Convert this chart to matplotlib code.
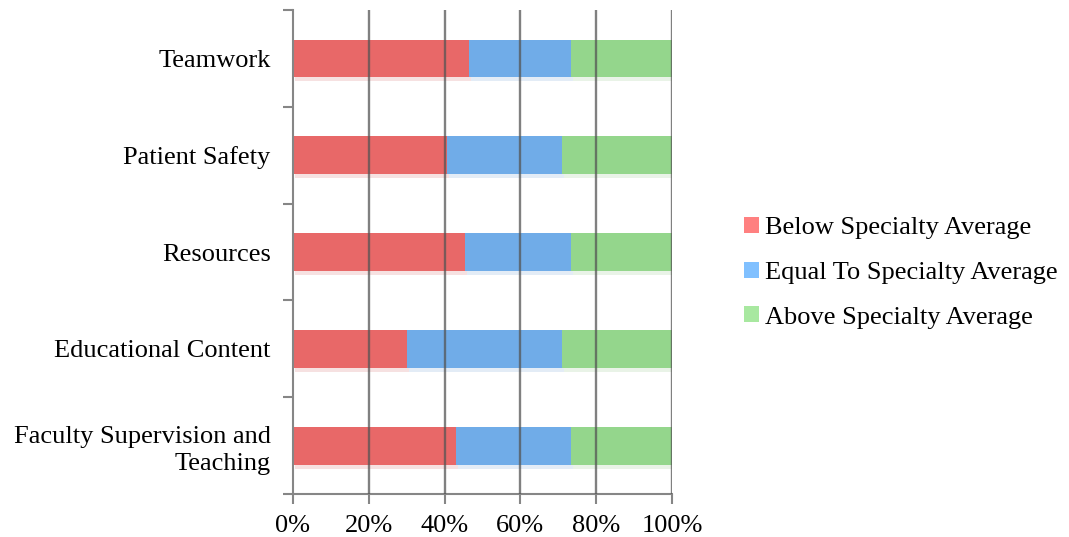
import matplotlib
matplotlib.use('Agg')
import matplotlib.pyplot as plt
import matplotlib.patheffects as pe
from matplotlib.patches import Patch
import numpy as np

plt.rc('font', family='Liberation Serif')

# categories listed bottom to top
categories = ['Faculty Supervision and\nTeaching', 'Educational Content',
              'Resources', 'Patient Safety', 'Teamwork']
below = [43.0, 30.2, 45.4, 40.6, 46.5]
equal = [30.3, 40.8, 27.9, 30.4, 26.8]
above = [26.7, 29.0, 26.7, 29.0, 26.7]
series_names = ['Below Specialty Average', 'Equal To Specialty Average',
                'Above Specialty Average']
bar_colors = ['#e86868', '#70ace8', '#94d68c']
key_colors = ['#ff8080', '#80c0ff', '#a8e8a0']

fs = 19

fig = plt.figure(figsize=(10.69, 5.37), dpi=100)
ax = fig.add_axes([0.274, 0.080, 0.3546, 0.9014])

y = np.arange(len(categories))
shadow = [pe.SimplePatchShadow(offset=(1.5, -3), alpha=0.18, rho=0.9), pe.Normal()]
left = np.zeros(len(categories))
for vals, col in zip([below, equal, above], bar_colors):
    bars = ax.barh(y, vals, left=left, height=0.39, color=col, zorder=1)
    for b in bars:
        b.set_path_effects(shadow)
    left += np.array(vals)

ax.set_xlim(0, 100)
ax.set_ylim(-0.5, len(categories) - 0.5)
ax.set_xticks(np.arange(0, 101, 20))
ax.set_xticklabels(['%d%%' % v for v in range(0, 101, 20)], fontsize=fs)
ax.set_yticks(y)
ax.set_yticklabels(categories, fontsize=fs, linespacing=1.3)
ax.set_yticks(np.arange(-0.5, len(categories), 1), minor=True)
ax.tick_params(axis='y', which='major', length=0, pad=16)
ax.tick_params(axis='y', which='minor', length=7, color='#868686', width=1.5)
ax.tick_params(axis='x', length=7, color='#868686', width=1.5, pad=8)

for x in range(20, 101, 20):
    ax.axvline(x, color='#555555', alpha=0.75, lw=1.7, zorder=3)

for s in ['top', 'right']:
    ax.spines[s].set_visible(False)
for s in ['left', 'bottom']:
    ax.spines[s].set_color('#868686')
    ax.spines[s].set_linewidth(1.5)

handles = [Patch(facecolor=c, edgecolor='none') for c in key_colors]
fig.legend(handles, series_names, loc='center left', bbox_to_anchor=(0.674, 0.492),
           frameon=False, fontsize=fs, handlelength=0.55, handleheight=0.55,
           handletextpad=0.25, labelspacing=0.85)

fig.savefig('out.png', dpi=100)
